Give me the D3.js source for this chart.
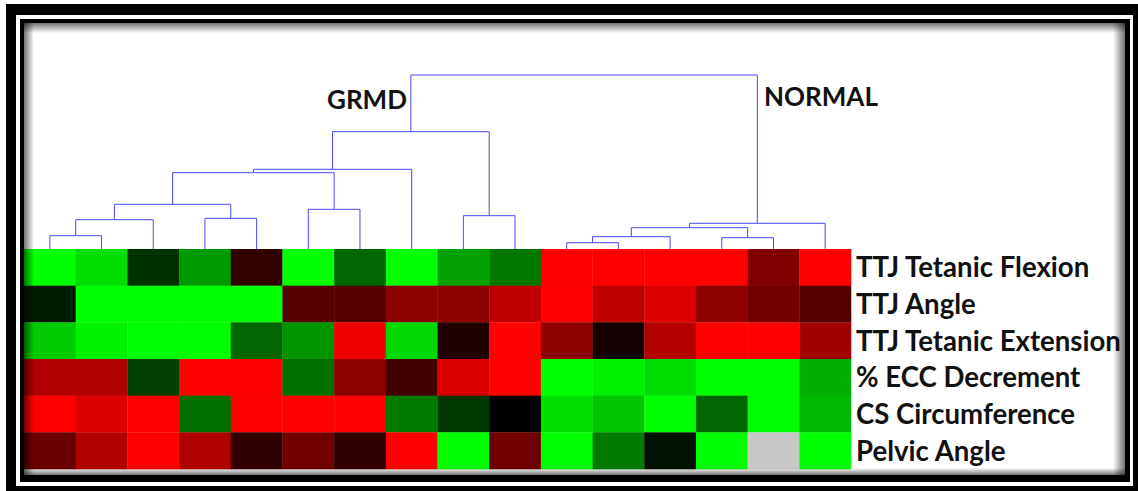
<!DOCTYPE html>
<html>
<head>
<meta charset="utf-8">
<script src="https://cdn.jsdelivr.net/npm/d3@7"></script>
<style>
  body { margin: 0; background: #fff; }
  svg { display: block; }
</style>
</head>
<body>
<div id="chart"></div>
<script>
"use strict";
(function () {
    // row labels (top to bottom)
    const rowLabels = ["TTJ Tetanic Flexion", "TTJ Angle", "TTJ Tetanic Extension",
        "% ECC Decrement", "CS Circumference", "Pelvic Angle"]
    const groupLabels = ["GRMD", "NORMAL"]

    // heat values, -1 = full green, 0 = black, 1 = full red, null = missing
    const flexion    = [-1, -0.87, -0.2, -0.6, 0.2, -1, -0.4, -1, -0.63, -0.47, 1, 1, 1, 1, 0.5, 1]
    const angle      = [-0.1, -1, -1, -1, -1, 0.33, 0.33, 0.55, 0.55, 0.75, 1, 0.75, 0.87, 0.55, 0.44, 0.33]
    const extension  = [-0.8, -0.95, -1, -1, -0.4, -0.58, 0.94, -0.85, 0.13, 1, 0.55, 0.08, 0.71, 1, 1, 0.63]
    const eccDecr    = [0.69, 0.69, -0.25, 1, 1, -0.44, 0.55, 0.25, 0.85, 1, -1, -0.95, -0.87, -1, -1, -0.69]
    const csCircum   = [1, 0.85, 1, -0.44, 1, 1, 1, -0.48, -0.22, 0, -0.88, -0.78, -1, -0.4, -1, -0.72]
    const pelvic     = [0.42, 0.69, 1, 0.69, 0.19, 0.44, 0.19, 1, -1, 0.44, -1, -0.48, -0.07, -1, null, -1]
    const rows = [flexion, angle, extension, eccDecr, csCircum, pelvic]

    // dendrogram merges: [left node, right node, height]; leaves are 0..15, merges numbered from 16
    const merges = [
        [0, 1, 13.3], [16, 2, 29.3], [3, 4, 30.7], [17, 18, 44.7], [5, 6, 39.7],
        [19, 20, 76.3], [21, 7, 79.7], [8, 9, 33.3], [22, 23, 117.3],
        [10, 11, 6.3], [25, 12, 12.3], [13, 14, 11.3], [26, 27, 21.3], [28, 15, 25.7],
        [24, 29, 174]
    ]

    const W = 1138, H = 491
    const svg = d3.select("#chart").append("svg").attr("width", W).attr("height", H)
    const defs = svg.append("defs")

    // frame: double black border
    svg.append("rect").attr("x", 6).attr("y", 4).attr("width", 1132).attr("height", 487).attr("fill", "#000")
    svg.append("rect").attr("x", 16).attr("y", 15).attr("width", 1117).attr("height", 471).attr("fill", "#fff")
    svg.append("rect").attr("x", 20).attr("y", 19).attr("width", 1110).attr("height", 463).attr("fill", "#000")
    svg.append("rect").attr("x", 24).attr("y", 23).attr("width", 1101).attr("height", 452).attr("fill", "#fff")

    const nCols = flexion.length
    const scaleX = d3.scaleBand().domain(d3.range(nCols)).range([24, 851]).padding(0)
    const scaleY = d3.scaleBand().domain(d3.range(rows.length)).range([249, 469]).padding(0)
    const color = d3.scaleLinear().domain([-1, 0, 1]).range(["#00ff00", "#000000", "#ff0000"])

    // heatmap cells
    const cells = []
    rows.forEach((r, i) => r.forEach((v, j) => cells.push({ row: i, col: j, value: v })))
    svg.append("g").selectAll("rect")
        .data(cells)
        .enter()
        .append("rect")
        .attr("x", d => scaleX(d.col))
        .attr("y", d => scaleY(d.row))
        .attr("width", scaleX.bandwidth() + 0.3)
        .attr("height", scaleY.bandwidth() + 0.3)
        .attr("fill", d => d.value === null ? "#c8c8c8" : color(d.value))

    // dendrogram
    const scaleH = d3.scaleLinear().domain([0, 174]).range([249, 75])
    const nodes = d3.range(nCols).map(i => ({ x: scaleX(i) + scaleX.bandwidth() / 2, h: 0 }))
    merges.forEach(m => {
        const a = nodes[m[0]], b = nodes[m[1]]
        nodes.push({ x: (a.x + b.x) / 2, h: m[2], left: a, right: b })
    })
    svg.append("g").selectAll("path")
        .data(nodes.filter(n => n.left))
        .enter()
        .append("path")
        .attr("fill", "none")
        .attr("stroke", "#4848ff")
        .attr("stroke-width", 1)
        .attr("d", n => `M${n.left.x},${scaleH(n.left.h)}V${scaleH(n.h)}H${n.right.x}V${scaleH(n.right.h)}`)

    // fit a text's font size so its width matches a target
    function fitSize(str, target) {
        const t = svg.append("text").attr("font-family", "Lato").attr("font-weight", "bold")
            .attr("font-size", 20).text(str)
        const w = t.node().getComputedTextLength()
        t.remove()
        return 20 * target / w
    }

    const rowSize = fitSize("TTJ Tetanic Extension", 265)
    svg.append("g").selectAll("text")
        .data(rowLabels)
        .enter()
        .append("text")
        .attr("x", 856)
        .attr("y", (d, i) => scaleY(i) + scaleY.bandwidth() / 2)
        .attr("dy", "0.36em")
        .attr("font-family", "Lato")
        .attr("font-weight", "bold")
        .attr("font-size", rowSize)
        .attr("fill", "#111")
        .text(d => d)

    const groupSize = fitSize("NORMAL", 114)
    const groupPos = [[327, 109], [764, 106]]
    svg.append("g").selectAll("text")
        .data(groupLabels)
        .enter()
        .append("text")
        .attr("x", (d, i) => groupPos[i][0])
        .attr("y", (d, i) => groupPos[i][1])
        .attr("font-family", "Lato")
        .attr("font-weight", "bold")
        .attr("font-size", groupSize)
        .attr("fill", "#111")
        .text(d => d)

    // inner shadow along the frame
    function grad(id, x1, y1, x2, y2) {
        const g = defs.append("linearGradient").attr("id", id)
            .attr("x1", x1).attr("y1", y1).attr("x2", x2).attr("y2", y2)
        g.append("stop").attr("offset", 0).attr("stop-color", "#000").attr("stop-opacity", 0.55)
        g.append("stop").attr("offset", 1).attr("stop-color", "#000").attr("stop-opacity", 0)
    }
    grad("shTop", 0, 0, 0, 1)
    grad("shLeft", 0, 0, 1, 0)
    grad("shRight", 1, 0, 0, 0)
    grad("shBottom", 0, 1, 0, 0)
    svg.append("rect").attr("x", 24).attr("y", 23).attr("width", 1101).attr("height", 10).attr("fill", "url(#shTop)")
    svg.append("rect").attr("x", 24).attr("y", 23).attr("width", 10).attr("height", 452).attr("fill", "url(#shLeft)")
    svg.append("rect").attr("x", 1113).attr("y", 23).attr("width", 12).attr("height", 452).attr("fill", "url(#shRight)")
    svg.append("rect").attr("x", 24).attr("y", 468).attr("width", 1101).attr("height", 7).attr("fill", "url(#shBottom)")
})()
</script>
</body>
</html>
